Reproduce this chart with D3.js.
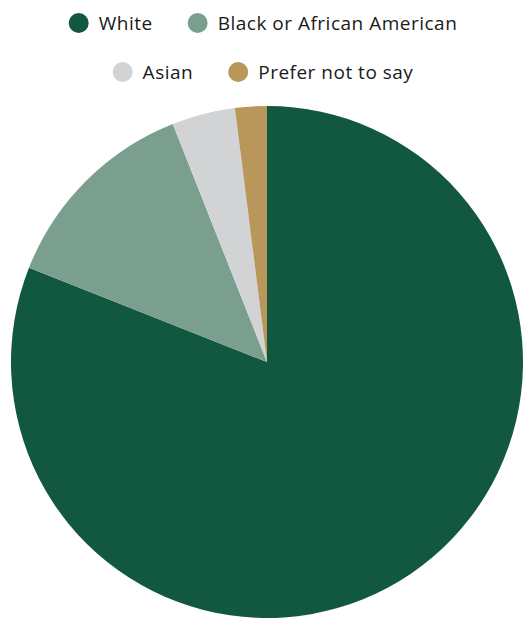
<!DOCTYPE html>
<html>
<head>
<meta charset="utf-8">
<script src="https://cdn.jsdelivr.net/npm/d3@7"></script>
<style>
  html, body { margin: 0; padding: 0; background: #ffffff; }
  svg { display: block; }
  text { font-family: "Open Sans", Lato, sans-serif; fill: #1a1a1a; }
</style>
</head>
<body>
<svg id="chart" width="524" height="619"></svg>
<script>
// Share of respondents by race (percent)
const categories = ["White", "Black or African American", "Asian", "Prefer not to say"];
const values = [81, 13, 4, 2];
const colors = ["#125840", "#7a9f8e", "#d1d3d5", "#b9975b"];

const svg = d3.select("#chart");
const cx = 267, cy = 362, radius = 256;

const color = d3.scaleOrdinal().domain(categories).range(colors);

const pie = d3.pie().sort(null).value(d => d.value);
const arc = d3.arc().innerRadius(0).outerRadius(radius);

const data = categories.map((c, i) => ({ name: c, value: values[i] }));

svg.append("g")
  .attr("transform", `translate(${cx},${cy})`)
  .selectAll("path")
  .data(pie(data))
  .join("path")
  .attr("d", arc)
  .attr("fill", d => color(d.data.name));

// Legend in two centred rows
const rows = [[0, 1], [2, 3]];
const rowY = [23, 72];
const dotR = 10, dotGap = 10, itemGap = 35;
const legend = svg.append("g");

rows.forEach((row, r) => {
  const g = legend.append("g");
  let x = 0;
  row.forEach(i => {
    const item = g.append("g").attr("transform", `translate(${x},0)`);
    item.append("circle")
      .attr("cx", dotR).attr("cy", 0).attr("r", dotR)
      .attr("fill", colors[i]);
    const t = item.append("text")
      .attr("x", dotR * 2 + dotGap)
      .attr("y", 0)
      .attr("dy", "0.35em")
      .attr("font-size", 19)
      .attr("letter-spacing", "0.5px")
      .text(categories[i]);
    x += dotR * 2 + dotGap + t.node().getComputedTextLength() + itemGap;
  });
  const w = x - itemGap;
  g.attr("transform", `translate(${(524 - w) / 2 + 1},${rowY[r]})`);
});
</script>
</body>
</html>
